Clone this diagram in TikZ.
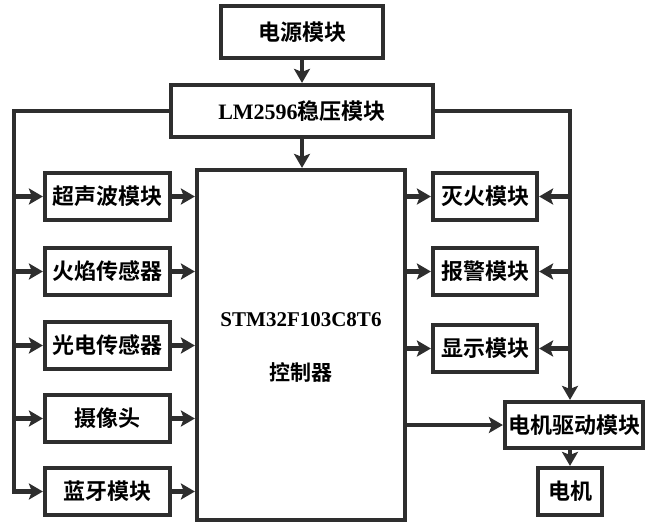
\documentclass[tikz,border=0pt]{standalone}
\usepackage{fontspec}
\setmainfont{Liberation Serif}
\newfontfamily\cjkb{Noto Sans CJK SC Bold}
\usetikzlibrary{arrows.meta,positioning}

\begin{document}
\begin{tikzpicture}[
  x=1pt,y=-1pt,
  box/.style={rectangle,draw=black!82,line width=4.2pt,inner sep=0pt,minimum height=47pt,font=\cjkb\fontsize{22}{26}\selectfont},
  arr/.style={-{Stealth[length=14pt,width=16pt,inset=3pt]},line width=4.2pt,draw=black!82}
]
\useasboundingbox (0,0) rectangle (648,525);
\node[box,minimum width=162pt,minimum height=52pt] (power) at (302,32) {电源模块};
\node[box,minimum width=262pt,minimum height=52pt] (lm) at (302,111) {{\rmfamily\bfseries\fontsize{22}{26}\selectfont LM2596}稳压模块};
\node[box,minimum width=208pt,minimum height=350pt] (mcu) at (301,345) {};
\node[font=\bfseries\fontsize{21}{25}\selectfont] (chip) at (301,320) {STM32F103C8T6};
\node[font=\cjkb\fontsize{21}{25}\selectfont] (ctl) at (301,372) {控制器};
\node[box,minimum width=125pt] (sonic) at (107.5,196.5) {超声波模块};
\node[box,minimum width=125pt] (flame) at (107.5,271.5) {火焰传感器};
\node[box,minimum width=125pt] (photo) at (107.5,345.5) {光电传感器};
\node[box,minimum width=125pt] (cam) at (107.5,418.5) {摄像头};
\node[box,minimum width=125pt] (bt) at (107.5,491.5) {蓝牙模块};
\node[box,minimum width=104pt] (fire) at (485,196.5) {灭火模块};
\node[box,minimum width=104pt] (alarm) at (485,271.5) {报警模块};
\node[box,minimum width=104pt] (disp) at (485,348.5) {显示模块};
\node[box,minimum width=138pt,minimum height=46pt] (drv) at (574,425) {电机驱动模块};
\node[box,minimum width=64pt] (motor) at (570,491.5) {电机};
\coordinate (lbus) at (14,111);
\coordinate (rbus) at (570,111);
\draw[arr] (power) -- (lm);
\draw[arr] (lm.south) -- (lm.south |- mcu.north);
\draw[arr] (lm.west) -- (lbus) |- (bt.west);
\draw[arr] (lbus |- sonic.west) -- (sonic.west);
\draw[arr] (lbus |- flame.west) -- (flame.west);
\draw[arr] (lbus |- photo.west) -- (photo.west);
\draw[arr] (lbus |- cam.west) -- (cam.west);
\draw[arr] (sonic.east) -- (sonic.east -| mcu.west);
\draw[arr] (flame.east) -- (flame.east -| mcu.west);
\draw[arr] (photo.east) -- (photo.east -| mcu.west);
\draw[arr] (cam.east) -- (cam.east -| mcu.west);
\draw[arr] (bt.east) -- (bt.east -| mcu.west);
\draw[arr] (lm.east) -- (rbus) -- (rbus |- drv.north);
\draw[arr] (rbus |- fire.east) -- (fire.east);
\draw[arr] (rbus |- alarm.east) -- (alarm.east);
\draw[arr] (rbus |- disp.east) -- (disp.east);
\draw[arr] (mcu.east |- fire.west) -- (fire.west);
\draw[arr] (mcu.east |- alarm.west) -- (alarm.west);
\draw[arr] (mcu.east |- disp.west) -- (disp.west);
\draw[arr] (mcu.east |- drv.west) -- (drv.west);
\draw[arr] (motor.north |- drv.south) -- (motor.north);
\end{tikzpicture}
\end{document}
